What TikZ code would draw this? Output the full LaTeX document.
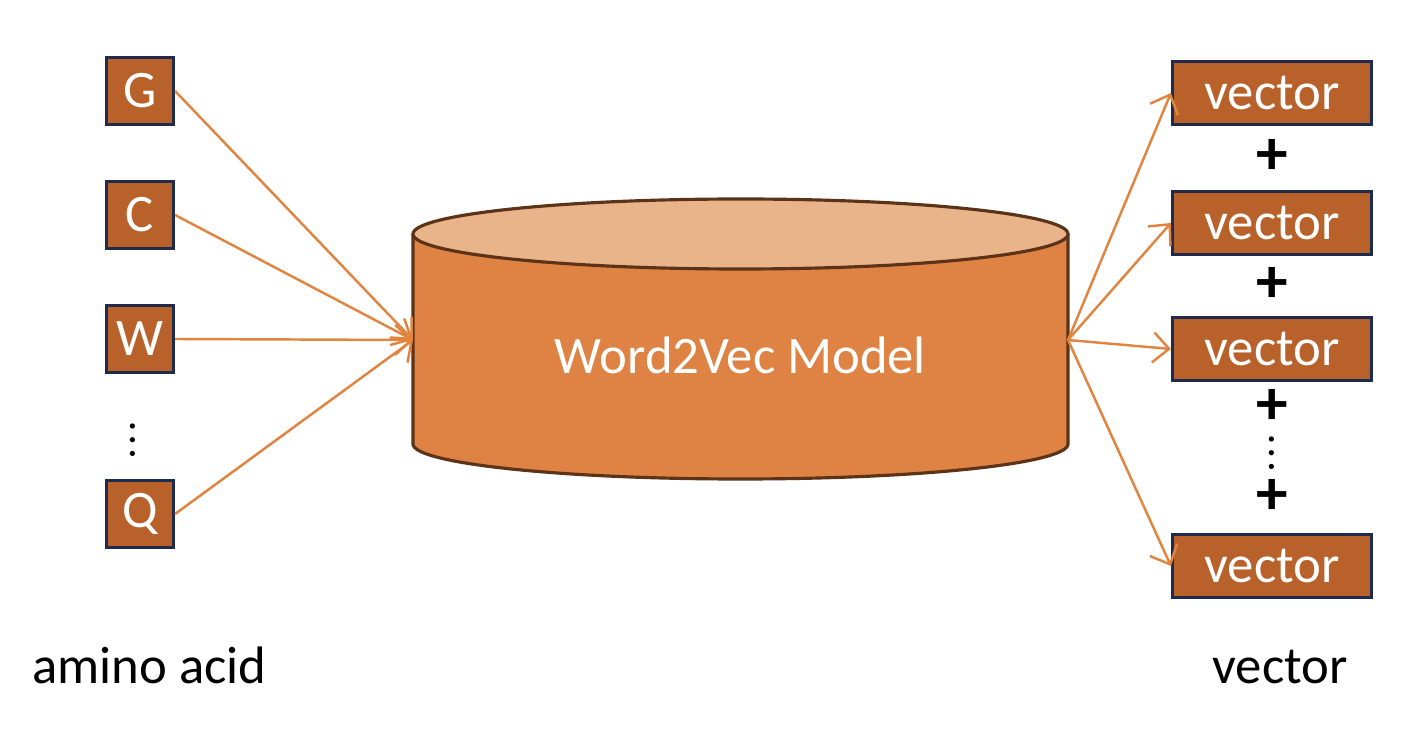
\documentclass[tikz,border=0pt]{standalone}
\usepackage{fontspec}
\setmainfont{Carlito}
\newfontfamily\symfont{Latin Modern Math}
\usetikzlibrary{arrows.meta}
\definecolor{mBox}{HTML}{B8612B}
\definecolor{mNavy}{HTML}{1F2B4D}
\definecolor{mArrow}{HTML}{E0843F}
\definecolor{mBody}{HTML}{DE8344}
\definecolor{mTop}{HTML}{EAB48B}
\definecolor{mEdge}{HTML}{5C3317}

\begin{document}
\begin{tikzpicture}[
    every node/.style={font=\fontsize{15}{18}\selectfont},
    aabox/.style={fill=mBox, draw=mNavy, line width=0.9pt, text=white,
                  minimum size=0.67cm, inner sep=0pt},
    vecbox/.style={fill=mBox, draw=mNavy, line width=0.9pt, text=white,
                   minimum width=1.99cm, minimum height=0.63cm, inner sep=0pt},
    plus/.style={inner sep=0pt, font=\fontsize{18}{20}\selectfont\bfseries},
    vdot/.style={inner sep=0pt, font=\symfont\fontsize{14}{15}\selectfont},
    conn/.style={mArrow, line width=0.7pt,
                 -{Straight Barb[length=1.6mm, width=3mm]}}]
    \useasboundingbox (0,0) rectangle (14.14,7.3);

    % cylinder
    \fill[mBody] (4.13,4.96) -- (4.13,2.86)
        arc[start angle=180, end angle=360, x radius=3.275, y radius=0.35]
        -- (10.68,4.96) -- cycle;
    \draw[mEdge, line width=0.9pt] (4.13,4.96) -- (4.13,2.86)
        arc[start angle=180, end angle=360, x radius=3.275, y radius=0.35]
        -- (10.68,4.96);
    \filldraw[fill=mTop, draw=mEdge, line width=0.9pt]
        (7.405,4.96) ellipse[x radius=3.275, y radius=0.35];
    \node[text=white] (model) at (7.405,3.75) {Word2Vec Model};
    \coordinate (inL) at (4.13,3.90);
    \coordinate (outR) at (10.68,3.90);

    % amino acids
    \node[aabox] (aaG) at (1.40,6.39) {G};
    \node[aabox] (aaC) at (1.40,5.15) {C};
    \node[aabox] (aaW) at (1.40,3.91) {W};
    \node[aabox] (aaQ) at (1.40,2.16) {Q};
    \node[vdot] (aaDots) at (1.33,2.90) {⋮};
    \node[anchor=base] (aaLabel) at (1.495,0.47) {amino acid};

    % vectors
    \node[vecbox] (vec1) at (12.72,6.37) {vector};
    \node[vecbox] (vec2) at (12.72,5.07) {vector};
    \node[vecbox] (vec3) at (12.72,3.81) {vector};
    \node[vecbox] (vec4) at (12.72,1.64) {vector};
    \node[plus] (plus1) at (12.72,5.73) {+};
    \node[plus] (plus2) at (12.72,4.45) {+};
    \node[plus] (plus3) at (12.72,3.23) {+};
    \node[plus] (plus4) at (12.72,2.33) {+};
    \node[vdot] (vecDots) at (12.72,2.77) {⋮};
    \node[anchor=base] (vecLabel) at (12.80,0.47) {vector};

    \foreach \n in {aaG,aaC,aaW,aaQ}
        \draw[conn] (\n.east) -- (inL);
    \foreach \n in {vec1,vec2,vec3,vec4}
        \draw[conn] (outR) -- (\n.west);
\end{tikzpicture}
\end{document}
